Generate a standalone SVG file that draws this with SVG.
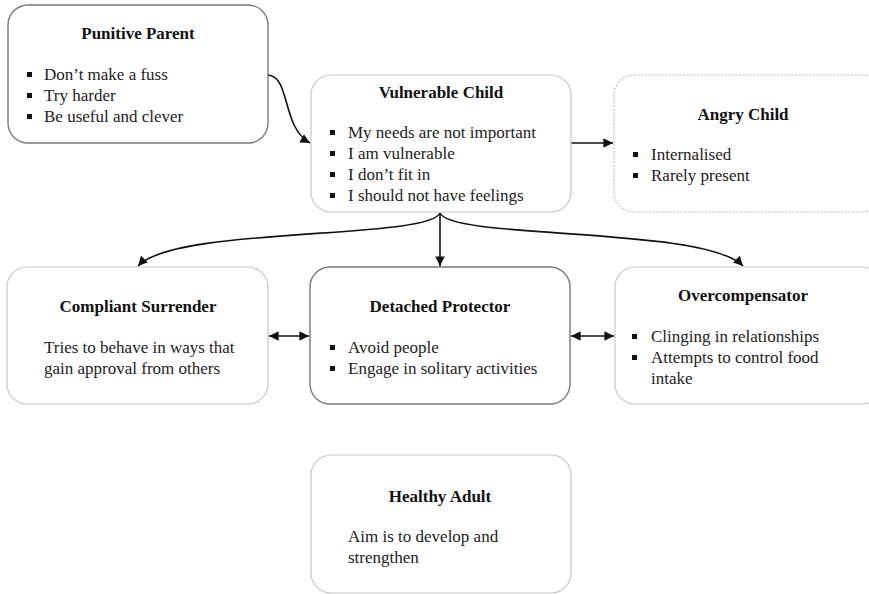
<svg xmlns="http://www.w3.org/2000/svg" width="869" height="594" viewBox="0 0 869 594">
  <style>
    .box { fill: #ffffff; stroke: #c6c6c6; stroke-width: 1.2; }
    .box.dark { stroke: #7a7a7a; stroke-width: 1.4; }
    .box.dashed { stroke: #c0c0c0; stroke-dasharray: 2 1.5; }
    .title { font-family: "Liberation Serif", "Times New Roman", serif; font-size: 17px; font-weight: bold; fill: #111; text-anchor: middle; }
    .body { font-family: "Liberation Serif", "Times New Roman", serif; font-size: 17px; fill: #222; }
    .bullet { fill: #111; }
    .conn { fill: none; stroke: #111; stroke-width: 1.6; }
  </style>
  <defs>
    <marker id="arrowEnd" viewBox="0 0 10 10" refX="10" refY="5" markerWidth="6" markerHeight="6" markerUnits="strokeWidth" orient="auto">
      <path d="M0,0 L10,5 L0,10 Z" fill="#111"/>
    </marker>
    <marker id="arrowStart" viewBox="0 0 10 10" refX="0" refY="5" markerWidth="6" markerHeight="6" markerUnits="strokeWidth" orient="auto">
      <path d="M10,0 L0,5 L10,10 Z" fill="#111"/>
    </marker>
  </defs>

  <rect width="869" height="594" fill="#ffffff"/>

  <!-- connectors -->
  <g id="connectors">
    <path class="conn" d="M267,75 C291,75 281,127 310,143" marker-end="url(#arrowEnd)"/>
    <path class="conn" d="M571,143 L613,143" marker-end="url(#arrowEnd)"/>
    <path class="conn" d="M440,213 L440,266" marker-end="url(#arrowEnd)"/>
    <path class="conn" d="M440,213 C428,240 175,226 138,266" marker-end="url(#arrowEnd)"/>
    <path class="conn" d="M440,213 C452,240 705,226 743,266" marker-end="url(#arrowEnd)"/>
    <path class="conn" d="M269,336 L309,336" marker-start="url(#arrowStart)" marker-end="url(#arrowEnd)"/>
    <path class="conn" d="M571,336 L614,336" marker-start="url(#arrowStart)" marker-end="url(#arrowEnd)"/>
  </g>

  <!-- Punitive Parent -->
  <g id="punitive-parent">
    <rect class="box dark" x="8" y="5" width="260" height="138" rx="20"/>
    <text class="title" x="138" y="39">Punitive Parent</text>
    <rect class="bullet" x="27" y="72" width="5" height="5"/>
    <text class="body" x="44" y="80">Don’t make a fuss</text>
    <rect class="bullet" x="27" y="93" width="5" height="5"/>
    <text class="body" x="44" y="101">Try harder</text>
    <rect class="bullet" x="27" y="114" width="5" height="5"/>
    <text class="body" x="44" y="122">Be useful and clever</text>
  </g>

  <!-- Vulnerable Child -->
  <g id="vulnerable-child">
    <rect class="box" x="311" y="75" width="260" height="137" rx="20"/>
    <text class="title" x="441" y="98">Vulnerable Child</text>
    <rect class="bullet" x="330" y="130" width="5" height="5"/>
    <text class="body" x="348" y="138">My needs are not important</text>
    <rect class="bullet" x="330" y="151" width="5" height="5"/>
    <text class="body" x="348" y="159">I am vulnerable</text>
    <rect class="bullet" x="330" y="172" width="5" height="5"/>
    <text class="body" x="348" y="180">I don’t fit in</text>
    <rect class="bullet" x="330" y="193" width="5" height="5"/>
    <text class="body" x="348" y="201">I should not have feelings</text>
  </g>

  <!-- Angry Child -->
  <g id="angry-child">
    <rect class="box dashed" x="614" y="75" width="268" height="137" rx="20"/>
    <text class="title" x="743" y="120">Angry Child</text>
    <rect class="bullet" x="633" y="152" width="5" height="5"/>
    <text class="body" x="651" y="160">Internalised</text>
    <rect class="bullet" x="633" y="173" width="5" height="5"/>
    <text class="body" x="651" y="181">Rarely present</text>
  </g>

  <!-- Compliant Surrender -->
  <g id="compliant-surrender">
    <rect class="box" x="7" y="267" width="261" height="137" rx="20"/>
    <text class="title" x="138" y="312">Compliant Surrender</text>
    <text class="body" x="44" y="353">Tries to behave in ways that</text>
    <text class="body" x="44" y="374">gain approval from others</text>
  </g>

  <!-- Detached Protector -->
  <g id="detached-protector">
    <rect class="box dark" x="310" y="267" width="260" height="137" rx="20"/>
    <text class="title" x="440" y="312">Detached Protector</text>
    <rect class="bullet" x="330" y="345" width="5" height="5"/>
    <text class="body" x="348" y="353">Avoid people</text>
    <rect class="bullet" x="330" y="366" width="5" height="5"/>
    <text class="body" x="348" y="374">Engage in solitary activities</text>
  </g>

  <!-- Overcompensator -->
  <g id="overcompensator">
    <rect class="box" x="615" y="267" width="267" height="137" rx="20"/>
    <text class="title" x="743" y="301">Overcompensator</text>
    <rect class="bullet" x="632" y="334" width="5" height="5"/>
    <text class="body" x="651" y="342">Clinging in relationships</text>
    <rect class="bullet" x="632" y="355" width="5" height="5"/>
    <text class="body" x="651" y="363">Attempts to control food</text>
    <text class="body" x="651" y="384">intake</text>
  </g>

  <!-- Healthy Adult -->
  <g id="healthy-adult">
    <rect class="box" x="311" y="455" width="260" height="138" rx="20"/>
    <text class="title" x="440" y="502">Healthy Adult</text>
    <text class="body" x="348" y="542">Aim is to develop and</text>
    <text class="body" x="348" y="563">strengthen</text>
  </g>
</svg>
